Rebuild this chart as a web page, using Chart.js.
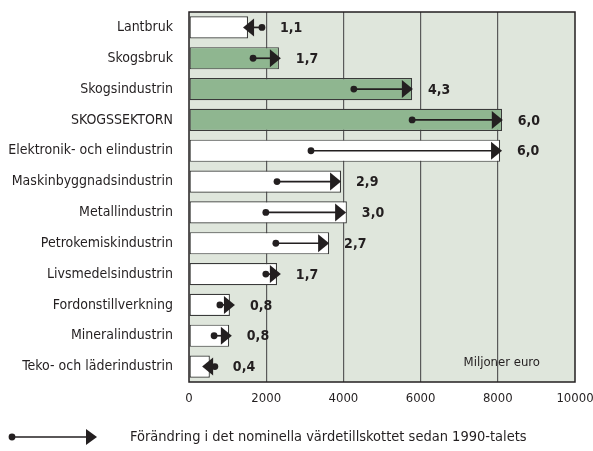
<!DOCTYPE html>
<html>
<head>
<meta charset="utf-8">
<script src="https://cdn.jsdelivr.net/npm/chart.js@4"></script>
<style>
html,body{margin:0;padding:0;background:#fff;}
#wrap{width:593px;height:451px;position:relative;}
</style>
</head>
<body>
<div id="wrap"><canvas id="c" width="593" height="451"></canvas></div>
<script>
const categories = ["Lantbruk","Skogsbruk","Skogsindustrin","SKOGSSEKTORN","Elektronik- och elindustrin","Maskinbyggnadsindustrin","Metallindustrin","Petrokemiskindustrin","Livsmedelsindustrin","Fordonstillverkning","Mineralindustrin","Teko- och läderindustrin"];
const currentValue = [1530,2330,5780,8110,8060,3940,4090,3630,2280,1060,1040,540];
const value1990s   = [1890,1660,4270,5780,3160,2280,1990,2250,1990,800,650,670];
const arrowEnd     = [1400,2380,5800,8130,8110,3940,4070,3630,2380,1190,1110,340];
const changeLabels = ["1,1","1,7","4,3","6,0","6,0","2,9","3,0","2,7","1,7","0,8","0,8","0,4"];
const forestGroup  = [false,true,true,true,false,false,false,false,false,false,false,false];
const xTicks = [0,2000,4000,6000,8000,10000];
const unitLabel = "Miljoner euro";
const legendLabel = "Förändring i det nominella värdetillskottet sedan 1990-talets";

const FONT = "'Liberation Sans Narrow','DejaVu Sans Condensed',sans-serif";
const TXT = '#231f20';

function drawArrow(ctx, x0, x1, y, headLen, headHalf){
  const dir = x1 >= x0 ? 1 : -1;
  ctx.save();
  ctx.strokeStyle = TXT; ctx.fillStyle = TXT; ctx.lineWidth = 1.7;
  ctx.beginPath(); ctx.moveTo(x0, y); ctx.lineTo(x1 - dir*headLen*0.8, y); ctx.stroke();
  ctx.beginPath(); ctx.arc(x0, y, 3.4, 0, Math.PI*2); ctx.fill();
  ctx.beginPath();
  ctx.moveTo(x1, y);
  ctx.lineTo(x1 - dir*headLen, y - headHalf);
  ctx.lineTo(x1 - dir*headLen, y + headHalf);
  ctx.closePath(); ctx.fill();
  ctx.restore();
}

const bgPlugin = {
  id:'bg',
  beforeDraw(chart){
    const {ctx, chartArea:a} = chart;
    ctx.save(); ctx.fillStyle = '#dfe6dc';
    ctx.fillRect(a.left, a.top, a.right-a.left, a.bottom-a.top);
    ctx.restore();
  },
  afterDraw(chart){
    const {ctx, chartArea:a, scales} = chart;
    const xs = scales.x, ys = scales.y;
    ctx.save(); ctx.strokeStyle = '#231f20'; ctx.lineWidth = 1.5;
    ctx.strokeRect(a.left, a.top, a.right-a.left, a.bottom-a.top);
    ctx.restore();
    categories.forEach((c,i)=>{
      const y = ys.getPixelForValue(i);
      const x0 = xs.getPixelForValue(value1990s[i]);
      const x1 = xs.getPixelForValue(arrowEnd[i]);
      drawArrow(ctx, x0, x1, y, 11, 9);
      const xb = xs.getPixelForValue(currentValue[i]);
      const maxX = Math.max(x0+3, x1, xb);
      ctx.save();
      ctx.fillStyle = TXT; ctx.font = 'bold 14px ' + FONT;
      ctx.textAlign = 'left'; ctx.textBaseline = 'middle';
      ctx.fillText(changeLabels[i], maxX + 15, y + 1);
      ctx.restore();
    });
    ctx.save();
    ctx.fillStyle = TXT; ctx.font = '13px ' + FONT;
    ctx.textAlign = 'center'; ctx.textBaseline = 'middle';
    ctx.fillText(unitLabel, xs.getPixelForValue(8000) + 4, a.bottom - 19);
    drawArrow(ctx, 12, 97, 437, 11, 8);
    ctx.font = '14.5px ' + FONT; ctx.textAlign = 'left';
    ctx.fillText(legendLabel, 130, 437);
    ctx.restore();
  }
};

new Chart(document.getElementById('c'), {
  type:'bar',
  data:{
    labels: categories,
    datasets:[{
      data: currentValue,
      backgroundColor: forestGroup.map(f => f ? '#8fb690' : '#ffffff'),
      borderColor: '#3a3a3a',
      borderWidth: 1.2,
      borderSkipped: false,
      barPercentage: 0.72,
      categoryPercentage: 1.0
    }]
  },
  options:{
    indexAxis:'y',
    responsive:false,
    animation:false,
    devicePixelRatio: 1,
    layout:{padding:{top:12,right:18,left:0,bottom:0}},
    plugins:{legend:{display:false}, tooltip:{enabled:false}},
    scales:{
      x:{
        min:0, max:10000,
        afterBuildTicks(scale){ scale.ticks = xTicks.map(v=>({value:v})); },
        afterFit(scale){ scale.height = 69; scale.paddingLeft = 0; scale.paddingRight = 0; },
        grid:{color:(ctx)=> (ctx.tick && (ctx.tick.value===0||ctx.tick.value===10000)) ? 'rgba(0,0,0,0)' : '#5a5a5a', lineWidth:1.2, drawTicks:false},
        border:{display:false},
        ticks:{color:TXT, font:{family:FONT, size:13}, padding:9, maxRotation:0, autoSkip:false,
               callback:(v)=> String(v)}
      },
      y:{
        afterFit(scale){ scale.width = 189; scale.paddingTop = 0; scale.paddingBottom = 0; },
        grid:{display:false, drawTicks:false},
        border:{display:false},
        ticks:{color:TXT, font:{family:FONT, size:14}, padding:16, autoSkip:false}
      }
    }
  },
  plugins:[bgPlugin]
});
</script>
</body>
</html>
